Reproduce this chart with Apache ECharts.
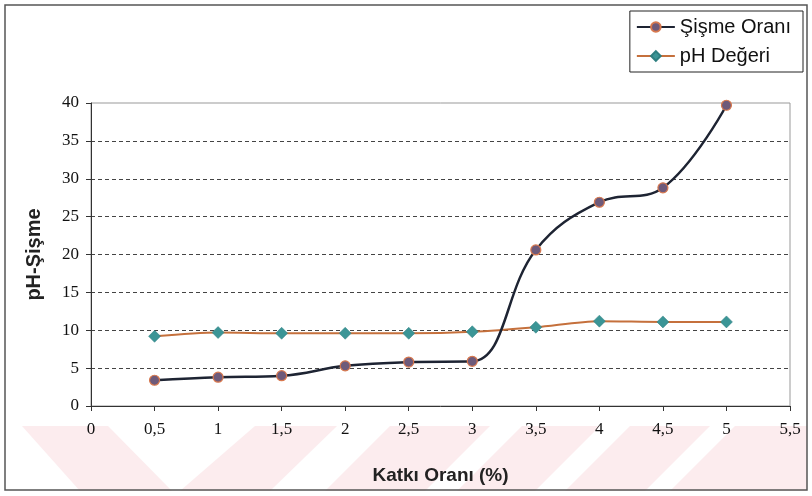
<!DOCTYPE html>
<html>
<head>
<meta charset="utf-8">
<script src="https://cdn.jsdelivr.net/npm/echarts@6/dist/echarts.min.js"></script>
<style>
  html, body { margin: 0; padding: 0; background: #fff; }
  #chart { width: 812px; height: 496px; }
</style>
</head>
<body>
<div id="chart"></div>
<script>
// Additive ratio (%) on the x axis
const katkiOrani = [0.5, 1, 1.5, 2, 2.5, 3, 3.5, 4, 4.5, 5];
// Swelling ratio values
const sismeOrani = [3.4, 3.8, 4.0, 5.3, 5.8, 5.9, 20.6, 26.9, 28.8, 39.7];
// pH values
const phDegeri = [9.2, 9.7, 9.6, 9.6, 9.6, 9.8, 10.4, 11.2, 11.1, 11.1];

const seriesNames = ['Şişme Oranı', 'pH Değeri'];
const xTitle = 'Katkı Oranı (%)';
const yTitle = 'pH-Şişme';

function pairs(xs, ys) {
  return xs.map((x, i) => [x, ys[i]]);
}

// Light pink diagonal bands across the lower page background
const bandTop = 426, bandBottom = 491;
const bands = [
  [[22, bandTop], [108, bandTop], [172, bandBottom], [80, bandBottom]],
  [[255, bandTop], [337, bandTop], [270, bandBottom], [180, bandBottom]],
  [[390, bandTop], [490, bandTop], [425, bandBottom], [325, bandBottom]],
  [[522, bandTop], [600, bandTop], [535, bandBottom], [457, bandBottom]],
  [[630, bandTop], [710, bandTop], [645, bandBottom], [565, bandBottom]],
  [[735, bandTop], [807, bandTop], [807, bandBottom], [670, bandBottom]]
];

const chart = echarts.init(document.getElementById('chart'), null, { renderer: 'canvas' });

const serif = '"Liberation Serif", "Times New Roman", serif';
const sans = '"Liberation Sans", Arial, sans-serif';

chart.setOption({
  backgroundColor: '#ffffff',
  animation: false,
  graphic: bands.map(pts => ({
    type: 'polygon',
    z: -10,
    silent: true,
    shape: { points: pts },
    style: { fill: '#fcecee' }
  })).concat([{
    type: 'rect',
    z: 100,
    silent: true,
    shape: { x: 5, y: 5, width: 802, height: 485 },
    style: { fill: 'none', stroke: '#555', lineWidth: 1.5 }
  }]),
  legend: {
    orient: 'vertical',
    right: 9,
    top: 11,
    padding: [6, 12, 6, 6],
    itemGap: 9,
    itemWidth: 38,
    itemHeight: 12,
    borderColor: '#222',
    borderWidth: 1,
    backgroundColor: '#fff',
    textStyle: { fontFamily: sans, fontSize: 20, color: '#111' },
    data: seriesNames
  },
  grid: {
    left: 91,
    right: 22,
    top: 103,
    bottom: 90,
    show: true,
    borderColor: '#999',
    borderWidth: 1,
    backgroundColor: 'transparent'
  },
  xAxis: {
    type: 'value',
    min: 0,
    max: 5.5,
    interval: 0.5,
    name: xTitle,
    nameLocation: 'middle',
    nameGap: 60,
    nameTextStyle: { fontFamily: sans, fontSize: 19, fontWeight: 'bold', color: '#222' },
    axisLine: { show: true, lineStyle: { color: '#333', width: 1 } },
    axisTick: { show: true, inside: false, length: 5, lineStyle: { color: '#333' } },
    axisLabel: {
      margin: 15,
      fontFamily: serif,
      fontSize: 17,
      color: '#111',
      formatter: v => String(v).replace('.', ',')
    },
    splitLine: { show: false }
  },
  yAxis: {
    type: 'value',
    min: 0,
    max: 40,
    interval: 5,
    name: yTitle,
    nameLocation: 'middle',
    nameGap: 47,
    nameRotate: 90,
    nameTextStyle: { fontFamily: sans, fontSize: 20, fontWeight: 'bold', color: '#222' },
    axisLine: { show: true, lineStyle: { color: '#333', width: 1 } },
    axisTick: { show: true, inside: false, length: 5, lineStyle: { color: '#333' } },
    axisLabel: { margin: 12, fontFamily: serif, fontSize: 17, color: '#111' },
    splitLine: {
      show: true,
      showMinLine: false,
      showMaxLine: false,
      lineStyle: { color: '#444', width: 1, type: [4, 3] }
    }
  },
  series: [
    {
      name: seriesNames[0],
      type: 'line',
      smooth: 0.4,
      data: pairs(katkiOrani, sismeOrani),
      symbol: 'circle',
      symbolSize: 10,
      lineStyle: { color: '#1e2433', width: 2.5 },
      itemStyle: { color: '#6e5a7a', borderColor: '#d8784e', borderWidth: 1.2 },
      z: 3
    },
    {
      name: seriesNames[1],
      type: 'line',
      smooth: 0.3,
      data: pairs(katkiOrani, phDegeri),
      symbol: 'diamond',
      symbolSize: 12,
      lineStyle: { color: '#c5703c', width: 2 },
      itemStyle: { color: '#3b9596', borderColor: '#2e7f80', borderWidth: 0.5 },
      z: 2
    }
  ]
});
</script>
</body>
</html>
